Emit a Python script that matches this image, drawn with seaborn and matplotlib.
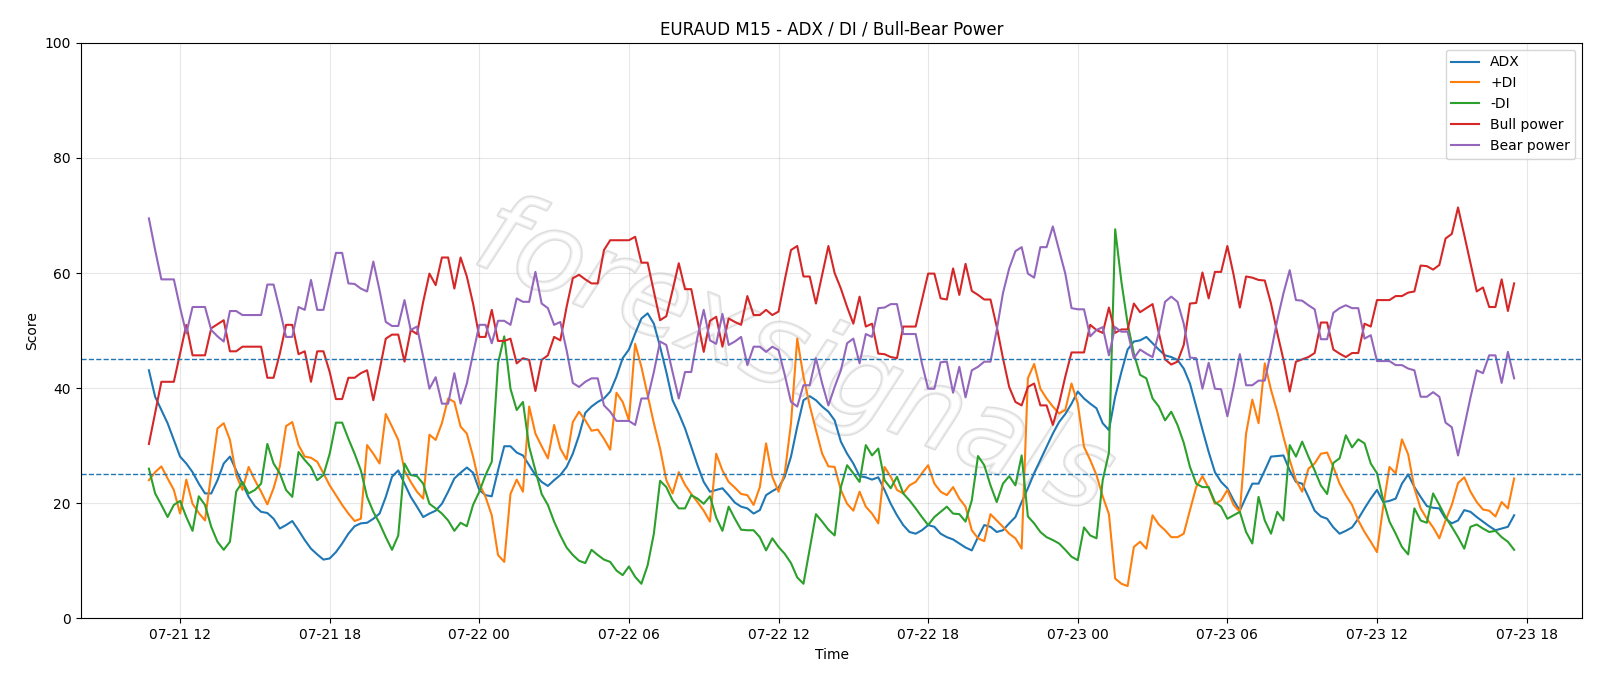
import pandas as pd
import seaborn as sns
import matplotlib.pyplot as plt
import matplotlib.dates as mdates
import matplotlib.patheffects as pe

# values, one per 15 min bar
adx = [
    43.1, 38.5, 36.2, 33.9, 31.0, 28.1, 26.9, 25.4, 23.4, 21.7, 21.7, 24.0, 26.9, 28.1, 25.7, 23.4, 21.1, 19.5,
    18.5, 18.3, 17.3, 15.6, 16.2, 16.9, 15.3, 13.6, 12.1, 11.1, 10.2, 10.4, 11.5, 13.0, 14.7, 16.0, 16.5, 16.6, 17.3,
    18.2, 21.1, 24.6, 25.7, 23.4, 21.1, 19.4, 17.6, 18.2, 18.7, 19.9, 22.0, 24.3, 25.3, 26.2, 25.3, 22.3,
    21.4, 21.2, 25.7, 29.9, 29.9, 28.8, 28.3, 26.6, 24.9, 23.7, 23.0, 24.0, 24.9, 26.3, 28.6, 31.8, 35.7, 36.8, 37.6,
    38.2, 39.4, 42.0, 45.2, 46.7, 49.5, 52.1, 53.0, 51.2, 47.2, 42.8, 37.9, 35.6, 33.0, 29.8, 26.6, 23.7, 22.0,
    22.3, 22.6, 21.4, 20.1, 19.4, 19.1, 18.2, 18.8, 21.4, 22.1, 22.7, 24.6, 28.1, 33.3, 37.9, 38.6, 37.9, 36.8, 35.9,
    34.4, 30.7, 28.6, 26.9, 24.7, 24.5, 24.1, 24.5, 22.3, 19.9, 17.9, 16.2, 15.0, 14.7, 15.3, 16.2, 15.9, 14.7,
    14.1, 13.7, 13.0, 12.3, 11.8, 14.1, 16.2, 15.9, 15.0, 15.3, 16.5, 17.6, 20.2, 22.6, 25.2, 27.5, 29.8, 32.1, 34.1,
    35.5, 37.3, 39.4, 38.2, 37.3, 36.5, 33.9, 32.7, 38.5, 42.8, 46.7, 48.1, 48.3, 48.9, 47.8, 46.7, 45.7, 45.4,
    44.9, 43.4, 40.8, 36.8, 32.8, 28.9, 25.4, 23.7, 22.6, 20.5, 18.7, 21.1, 23.4, 23.4, 25.7, 28.1, 28.2, 28.3,
    25.7, 23.7, 23.4, 21.1, 18.7, 17.7, 17.3, 15.8, 14.7, 15.2, 15.8, 17.3, 19.1, 20.8, 22.3, 20.2, 20.4, 20.8, 23.4,
    25.0, 22.8, 21.1, 19.5, 19.2, 19.1, 17.3, 16.5, 17.0, 18.8, 18.5, 17.6, 16.8, 16.0, 15.3, 15.6, 15.9, 17.9,
]
plus_di = [
    24.0, 25.4, 26.4, 24.3, 22.3, 18.2, 24.1, 19.9, 18.3, 17.0, 25.2, 33.0, 33.9, 31.0, 24.9, 22.3, 26.3, 24.0,
    22.0, 19.8, 22.6, 26.4, 33.4, 34.1, 30.1, 28.1, 27.9, 27.2, 25.2, 23.1, 21.4, 19.7, 18.2, 16.9, 17.3, 30.1, 28.6,
    26.9, 35.5, 33.3, 31.0, 25.7, 23.7, 22.0, 20.8, 31.9, 31.0, 33.9, 38.2, 37.6, 33.3, 32.1, 28.1, 23.4,
    21.1, 17.9, 11.0, 9.8, 21.6, 24.1, 22.0, 36.8, 32.1, 29.9, 27.8, 33.6, 29.5, 27.6, 34.1, 35.9, 34.4, 32.6, 32.8,
    31.2, 29.3, 39.2, 37.6, 34.4, 47.7, 43.7, 38.8, 33.9, 29.5, 24.0, 21.7, 25.4, 23.2, 21.6, 20.2, 18.7, 16.8,
    28.6, 25.7, 23.7, 22.7, 21.6, 21.4, 19.7, 22.8, 30.4, 24.6, 22.0, 25.2, 33.9, 48.6, 42.0, 37.0, 32.7, 28.6, 26.4,
    26.3, 22.3, 19.9, 18.7, 22.0, 19.4, 18.2, 16.5, 26.3, 24.6, 22.3, 21.7, 23.1, 23.7, 25.2, 26.6, 23.4, 22.0,
    21.4, 22.8, 20.8, 19.4, 15.3, 13.9, 13.4, 18.1, 17.0, 15.9, 14.7, 13.9, 12.1, 41.7, 44.2, 39.9, 38.2, 36.8, 35.6,
    36.2, 40.8, 37.3, 29.8, 27.5, 24.9, 21.2, 18.1, 6.9, 6.0, 5.6, 12.4, 13.3, 12.1, 17.9, 16.3, 15.3, 14.1,
    14.1, 14.7, 18.8, 22.8, 24.7, 22.6, 19.9, 20.5, 22.3, 19.7, 18.5, 32.1, 38.0, 33.9, 44.3, 39.7, 35.9, 31.5,
    27.5, 24.0, 22.0, 26.0, 26.9, 28.6, 28.8, 26.3, 23.4, 21.4, 19.7, 17.0, 15.0, 13.3, 11.5, 19.4, 26.3, 25.2, 31.1,
    28.5, 22.6, 19.1, 17.3, 15.8, 13.9, 17.0, 19.7, 23.5, 24.5, 22.0, 20.2, 18.9, 18.7, 17.7, 20.2, 19.1, 24.3,
]
minus_di = [
    26.0, 21.7, 19.7, 17.6, 19.7, 20.4, 17.6, 15.2, 21.2, 19.7, 15.9, 13.3, 11.9, 13.3, 22.0, 23.7, 21.7, 22.3,
    23.4, 30.3, 26.9, 25.2, 22.3, 21.1, 28.9, 27.5, 26.3, 24.0, 24.9, 28.6, 34.0, 34.0, 31.2, 28.6, 25.7, 21.1, 18.5,
    16.5, 14.1, 11.9, 14.4, 26.9, 24.9, 24.7, 23.4, 19.9, 19.1, 18.2, 17.0, 15.2, 16.6, 16.0, 19.7, 22.0,
    24.9, 27.2, 44.3, 49.0, 39.9, 36.2, 37.6, 29.8, 25.7, 21.6, 19.7, 16.8, 14.4, 12.3, 11.0, 10.0, 9.6, 11.9, 11.0,
    10.2, 9.8, 8.3, 7.5, 9.0, 7.2, 6.0, 9.2, 14.7, 23.9, 22.8, 20.5, 19.1, 19.1, 21.4, 20.8, 19.9, 21.2,
    17.5, 15.2, 19.4, 17.3, 15.4, 15.3, 15.3, 14.1, 11.8, 13.9, 12.4, 11.2, 9.6, 7.1, 6.0, 12.1, 18.1, 16.8, 15.4,
    14.4, 22.8, 26.6, 25.2, 23.7, 30.1, 28.3, 29.5, 24.0, 22.6, 24.6, 21.7, 20.5, 19.1, 17.6, 16.2, 17.6, 18.5,
    19.4, 18.2, 18.1, 16.8, 20.5, 28.2, 26.6, 23.1, 20.2, 23.4, 24.7, 23.1, 28.3, 17.7, 16.5, 15.0, 14.1, 13.6, 13.0,
    11.9, 10.7, 10.1, 15.8, 14.4, 13.9, 24.0, 28.8, 67.6, 58.5, 51.2, 46.0, 42.3, 41.7, 38.2, 36.8, 34.4, 35.9,
    33.6, 30.5, 26.3, 23.4, 22.8, 22.8, 20.2, 19.4, 17.3, 17.9, 18.5, 15.0, 13.0, 21.1, 17.0, 14.7, 18.5, 17.0,
    30.1, 28.1, 30.7, 28.1, 25.7, 23.1, 21.6, 27.0, 27.8, 31.8, 29.7, 31.1, 30.4, 26.9, 25.2, 20.5, 16.8, 14.7, 12.4,
    11.1, 19.1, 17.0, 16.6, 21.7, 19.7, 17.6, 15.9, 14.1, 12.1, 15.9, 16.3, 15.6, 15.0, 15.2, 14.1, 13.3, 11.9,
]
bull_power = [
    30.3, 35.7, 41.1, 41.1, 41.1, 46.0, 51.0, 45.7, 45.7, 45.7, 50.4, 51.1, 51.8, 46.4, 46.4, 47.2, 47.2, 47.2,
    47.2, 41.8, 41.8, 46.0, 51.0, 51.0, 45.9, 46.4, 41.1, 46.4, 46.4, 42.8, 38.1, 38.1, 41.8, 41.8, 42.6, 43.1, 37.9,
    43.1, 48.6, 49.3, 49.3, 44.6, 50.1, 49.4, 55.0, 59.9, 57.9, 62.7, 62.7, 57.3, 62.7, 59.4, 54.7, 48.9,
    48.9, 53.6, 48.2, 48.2, 48.6, 44.3, 45.2, 44.9, 39.5, 44.9, 45.7, 48.9, 48.3, 54.1, 59.1, 59.7, 58.9, 58.2, 58.2,
    64.0, 65.7, 65.7, 65.7, 65.7, 66.3, 61.8, 61.8, 56.8, 51.8, 52.5, 57.0, 61.7, 57.2, 57.2, 51.8, 46.3, 51.7,
    52.4, 47.2, 52.1, 51.5, 51.0, 56.0, 52.7, 52.7, 53.6, 52.7, 53.3, 58.8, 64.0, 64.7, 59.4, 59.4, 54.7, 59.7, 64.7,
    60.0, 57.3, 54.1, 51.2, 55.9, 50.7, 51.2, 46.0, 45.9, 45.4, 45.2, 50.7, 50.7, 50.7, 55.3, 59.9, 59.9, 55.6,
    55.4, 60.8, 56.2, 61.6, 56.9, 56.2, 55.4, 55.4, 50.7, 45.2, 40.2, 37.6, 37.0, 40.2, 40.8, 37.0, 37.0, 33.6, 37.3,
    42.0, 46.2, 46.2, 46.2, 51.0, 50.1, 49.6, 54.0, 49.6, 50.2, 50.2, 54.7, 53.2, 53.9, 54.6, 49.6, 45.0, 44.1,
    44.6, 47.5, 54.7, 54.8, 60.1, 55.6, 60.2, 60.2, 64.7, 59.7, 54.0, 59.4, 59.2, 58.8, 58.7, 54.7, 49.6, 44.9,
    39.4, 44.6, 45.0, 45.4, 46.1, 51.4, 51.4, 46.7, 46.0, 45.4, 46.1, 46.1, 51.2, 50.7, 55.3, 55.3, 55.3, 56.0, 56.0,
    56.6, 56.8, 61.3, 61.2, 60.6, 61.4, 66.0, 66.8, 71.4, 66.6, 61.7, 56.8, 57.5, 54.1, 54.1, 58.9, 53.4, 58.2,
]
bear_power = [
    69.5, 64.0, 58.9, 58.9, 58.9, 54.0, 49.5, 54.1, 54.1, 54.1, 50.1, 49.0, 48.1, 53.4, 53.4, 52.7, 52.7, 52.7,
    52.7, 58.0, 58.0, 53.6, 48.9, 48.9, 54.1, 53.6, 58.8, 53.6, 53.6, 58.5, 63.5, 63.5, 58.2, 58.1, 57.3, 56.8, 62.0,
    57.0, 51.5, 50.8, 50.8, 55.3, 50.1, 50.7, 45.4, 39.9, 41.9, 37.3, 37.3, 42.6, 37.3, 40.8, 46.0, 51.0,
    51.0, 47.8, 51.7, 51.7, 51.0, 55.6, 55.0, 55.0, 60.2, 54.7, 53.9, 51.0, 51.5, 46.6, 40.9, 40.2, 41.1, 41.7, 41.7,
    37.0, 35.9, 34.3, 34.3, 34.3, 33.6, 38.2, 38.2, 42.8, 48.1, 47.5, 42.8, 38.2, 42.8, 42.8, 48.9, 53.6, 48.3,
    47.7, 52.9, 47.5, 48.1, 48.9, 44.0, 47.2, 47.2, 46.3, 47.2, 46.6, 42.3, 37.6, 36.8, 40.5, 40.5, 45.2, 40.8, 37.0,
    40.2, 43.1, 47.8, 48.6, 44.3, 49.4, 48.9, 53.9, 54.0, 54.6, 54.6, 49.4, 49.4, 49.4, 44.3, 39.9, 39.9, 44.5,
    44.6, 39.2, 43.7, 38.4, 43.1, 43.7, 44.6, 44.6, 50.1, 56.5, 60.8, 63.8, 64.5, 59.9, 59.2, 64.5, 64.5, 68.1, 64.0,
    59.9, 53.9, 53.7, 53.7, 49.0, 50.1, 50.6, 45.7, 50.6, 49.8, 49.8, 45.2, 46.7, 46.0, 45.4, 49.6, 55.0, 55.9,
    55.0, 51.2, 45.3, 45.2, 39.9, 44.4, 39.9, 39.8, 35.1, 40.2, 45.9, 40.5, 40.5, 41.3, 41.3, 46.3, 51.8, 56.5,
    60.5, 55.3, 55.2, 54.4, 53.7, 48.5, 48.5, 53.1, 53.9, 54.4, 53.9, 53.9, 48.6, 49.2, 44.7, 44.7, 44.7, 44.0, 44.0,
    43.4, 43.1, 38.5, 38.5, 39.3, 38.5, 34.0, 33.2, 28.3, 33.3, 38.4, 43.1, 42.6, 45.7, 45.7, 40.9, 46.3, 41.7,
]
series_names = ["ADX", "+DI", "-DI", "Bull power", "Bear power"]
levels = [45, 25]

times = pd.date_range("2025-07-21 10:45", periods=len(adx), freq="15min")
df = pd.DataFrame({"time": times, "ADX": adx, "+DI": plus_di, "-DI": minus_di,
                   "Bull power": bull_power, "Bear power": bear_power})

fig, ax = plt.subplots(figsize=(16, 6.86), dpi=100)
fig.subplots_adjust(left=0.0504, right=0.989, top=0.9375, bottom=0.0987)

colors = ["tab:blue", "tab:orange", "tab:green", "tab:red", "tab:purple"]
for name, c in zip(series_names, colors):
    sns.lineplot(data=df, x="time", y=name, ax=ax, color=c, label=name, linewidth=1.5)

for lv in levels:
    ax.axhline(lv, color="tab:blue", linestyle="--", linewidth=1)

# faint watermark, outlined letters
ax.text(0.475, 0.45, "forexsignals", transform=ax.transAxes, rotation=-22,
        fontsize=80, style="italic", color="white", alpha=0.5, ha="center", va="center",
        zorder=1.6, path_effects=[pe.withStroke(linewidth=2, foreground="#bdbdbd")])

ax.set_ylim(0, 100)
ax.grid(True, alpha=0.3)
ax.xaxis.set_major_locator(mdates.HourLocator(byhour=[0, 6, 12, 18]))
ax.xaxis.set_major_formatter(mdates.DateFormatter("%m-%d %H"))
ax.set_title("EURAUD M15 - ADX / DI / Bull-Bear Power")
ax.set_xlabel("Time")
ax.set_ylabel("Score")
ax.legend(loc="upper right")

fig.savefig("out.png", dpi=100)
